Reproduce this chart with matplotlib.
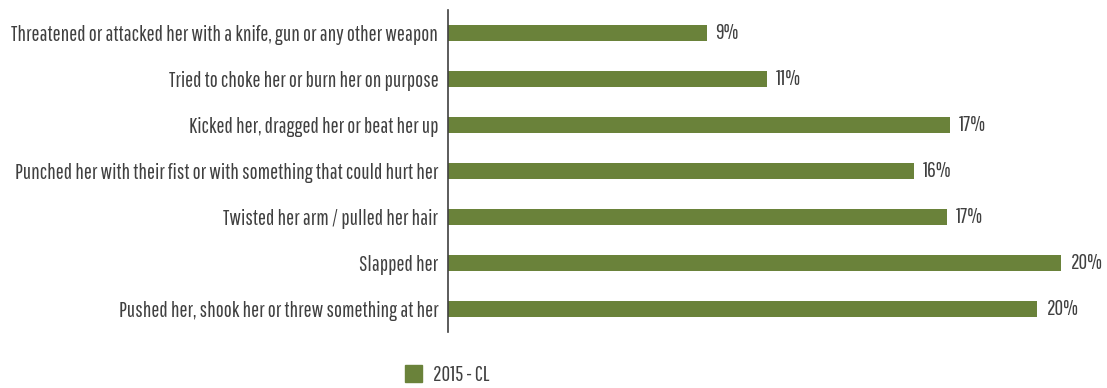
import matplotlib
matplotlib.use("Agg")
import matplotlib.pyplot as plt
from matplotlib.patches import Patch

plt.rcParams['font.family'] = ['Pathway Gothic One', 'DejaVu Sans']

categories = [
    "Threatened or attacked her with a knife, gun or any other weapon",
    "Tried to choke her or burn her on purpose",
    "Kicked her, dragged her or beat her up",
    "Punched her with their fist or with something that could hurt her",
    "Twisted her arm / pulled her hair",
    "Slapped her",
    "Pushed her, shook her or threw something at her",
]
values = [8.6, 10.6, 16.7, 15.5, 16.6, 20.4, 19.6]
series_name = "2015 - CL"

green = "#6a823a"
text_col = "#404040"
fs = 15.4

fig = plt.figure(figsize=(11.07, 3.88), dpi=100)
ax = fig.add_axes([448 / 1107, 1 - 332 / 388, 652 / 1107, 322 / 388])

y = list(range(len(categories)))
ax.barh(y, values, height=0.35, color=green)
ax.set_ylim(len(categories) - 0.5, -0.5)
ax.set_xlim(0, 652 / 30.07)

ax.set_yticks(y)
ax.set_yticklabels(categories, fontsize=fs, color=text_col)
ax.tick_params(axis='y', length=0, pad=7)
ax.set_xticks([])

for s in ['top', 'right', 'bottom']:
    ax.spines[s].set_visible(False)
ax.spines['left'].set_color('#404040')
ax.spines['left'].set_linewidth(1.2)

for yi, v in zip(y, values):
    ax.text(v + 0.3, yi, f"{v:.0f}%", va='center', ha='left',
            fontsize=fs, color=text_col)

fig.legend(handles=[Patch(color=green, label=series_name)],
           loc='center', bbox_to_anchor=(447 / 1107, 1 - 375 / 388),
           frameon=False, fontsize=fs, handlelength=0.8, handleheight=0.8,
           handletextpad=0.5, labelcolor=text_col)

fig.savefig("out.png", dpi=100)
